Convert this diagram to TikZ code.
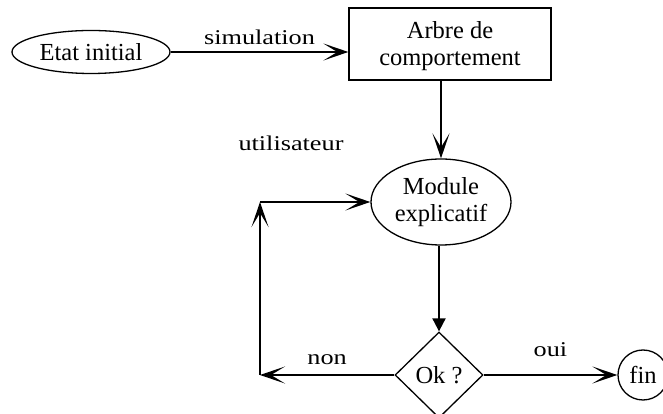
\documentclass[tikz,border=0pt]{standalone}
\usepackage{fontspec}
\setmainfont{Liberation Serif}
\newfontfamily\lblfont{Liberation Serif}[FakeStretch=1.25]
\usetikzlibrary{shapes.geometric,arrows.meta}
\tikzset{
  etape/.style={draw,line width=1.3pt,inner sep=0pt,align=center,
    font=\fontsize{24.5}{27}\selectfont},
  lien/.style={line width=2pt,-{Stealth[length=25pt,width=17pt,inset=14pt]}},
  lbl/.style={font=\lblfont\fontsize{21}{22}\selectfont}
}
\begin{document}
\begin{tikzpicture}[x=1pt,y=1pt]
          \useasboundingbox (0,0) rectangle (663,414);
          %\draw[very thin,lightgray] (0,0) grid[step=50] (663,414);
          \node[etape,ellipse,minimum width=158,minimum height=43] (etat) at (91,362) {Etat initial};
          \node[etape,rectangle,minimum width=202,minimum height=72,text depth=0pt] (arbre) at (450,370) {Arbre de\\comportement};
          \node[etape,ellipse,minimum width=140,minimum height=86] (module) at (441,212) {Module\\explicatif};
          \node[etape,diamond,minimum width=88,minimum height=86] (ok) at (439,39) {Ok ?};
          \node[etape,circle,minimum size=50] (fin) at (643,39) {fin};
          \coordinate (bas) at (260,39);
          \coordinate (haut) at (260,212);
          \draw[lien] (etat.east) -- node[lbl,above=3pt]{simulation} (etat.east -| arbre.west);
          \draw[lien] (module.north |- arbre.south) -- (module.north);
          \node[lbl] (user) at (291,271) {utilisateur};
          \draw[line width=2pt,-{Triangle[length=13pt,width=13pt]}] (module.south -| ok.north) -- (ok.north);
          \draw[lien] (ok.west) -- node[lbl,above=6pt]{non} (bas);
          \draw[lien] (bas) -- (haut);
          \draw[lien] (haut) -- (module.west);
          \draw[lien] (ok.east) -- node[lbl,above=14pt]{oui} (fin.west);
        \end{tikzpicture}
\end{document}
